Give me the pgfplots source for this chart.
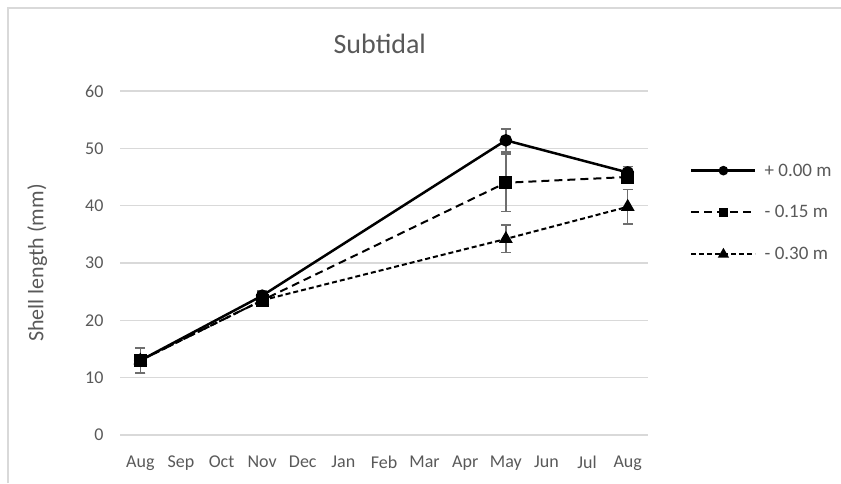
\documentclass[border=0pt]{standalone}
\usepackage{pgfplots}
\pgfplotsset{compat=1.18}
\usepackage{fontspec}
\setmainfont{Carlito}
\definecolor{gridgray}{RGB}{217,217,217}
\definecolor{txtgray}{RGB}{89,89,89}
\definecolor{errgray}{RGB}{110,110,110}
\pgfplotsset{mylegend/.style={legend image code/.code={%
  \draw[##1,mark repeat=2,mark phase=2,mark size=#1] plot coordinates {(0pt,0pt)(32pt,0pt)(64pt,0pt)};
  \path (70pt,0pt);}}}

\begin{document}
\begin{tikzpicture}
\useasboundingbox (0pt,0pt) rectangle (841pt,-483pt);
\draw[gridgray, line width=1.5pt] (8pt,-483pt) -- (8pt,-8pt) -- (841pt,-8pt);
\begin{axis}[
  at={(120pt,-435pt)}, anchor=south west,
  scale only axis, width=528pt, height=344pt,
  xmin=-0.5, xmax=12.5, ymin=0, ymax=60,
  xtick={0,...,12},
  xticklabels={Aug,Sep,Oct,Nov,Dec,Jan,Feb,Mar,Apr,May,Jun,Jul,Aug},
  ytick={0,10,...,60},
  axis line style={draw=none},
  major tick length=0pt,
  ymajorgrids, grid style={gridgray, line width=1.3pt},
  ticklabel style={font=\fontsize{18}{20}\selectfont, text=txtgray},
  /pgf/number format/assume math mode=true,
  yticklabel style={xshift=-13pt},
  xticklabel style={yshift=-17pt},
  ylabel={Shell length (mm)},
  ylabel style={at={(axis description cs:-0.157,0.5)}, anchor=center,
    font=\fontsize{22}{25}\selectfont, text=txtgray},
  title={Subtidal},
  title style={at={(axis description cs:0.492,1.12)}, anchor=center,
    font=\fontsize{28}{32}\selectfont, text=txtgray},
  legend style={at={(axis description cs:1.0795,0.795)}, anchor=north west,
    draw=none, fill=none, inner sep=0pt, row sep=24pt,
    font=\fontsize{19}{21}\selectfont, text=txtgray},
  legend cell align=left,
  error bars/y dir=both, error bars/y explicit,
  error bars/error bar style={errgray, line width=1.5pt, solid},
  error bars/error mark options={rotate=90, errgray, mark size=5pt, line width=1.5pt, solid},
]
\addplot[black, line width=2.5pt, mark=*, mark size=5pt, mark options={solid, fill=black}, mylegend=3.5pt]
  coordinates {(0,13) +- (0,2.2) (3,24.3) +- (0,0.8) (9,51.4) +- (0,2.0) (12,45.8) +- (0,1.0)};
\addplot[black, line width=2pt, dash pattern=on 8pt off 5pt, mark=square*, mark size=5.5pt, mark options={solid, fill=black}, mylegend=3.5pt]
  coordinates {(0,13) +- (0,2.2) (3,23.5) +- (0,0.8) (9,44.0) +- (0,5.0) (12,45.0) +- (0,1.0)};
\addplot[black, line width=2pt, dash pattern=on 5pt off 3pt, mark=triangle*, mark size=6pt, mark options={solid, fill=black}, mylegend=4.5pt]
  coordinates {(0,13) +- (0,2.2) (3,23.5) +- (0,0.8) (9,34.2) +- (0,2.4) (12,39.8) +- (0,3.0)};
\legend{+ 0.00 m, - 0.15 m, - 0.30 m}
\end{axis}
\end{tikzpicture}
\end{document}
